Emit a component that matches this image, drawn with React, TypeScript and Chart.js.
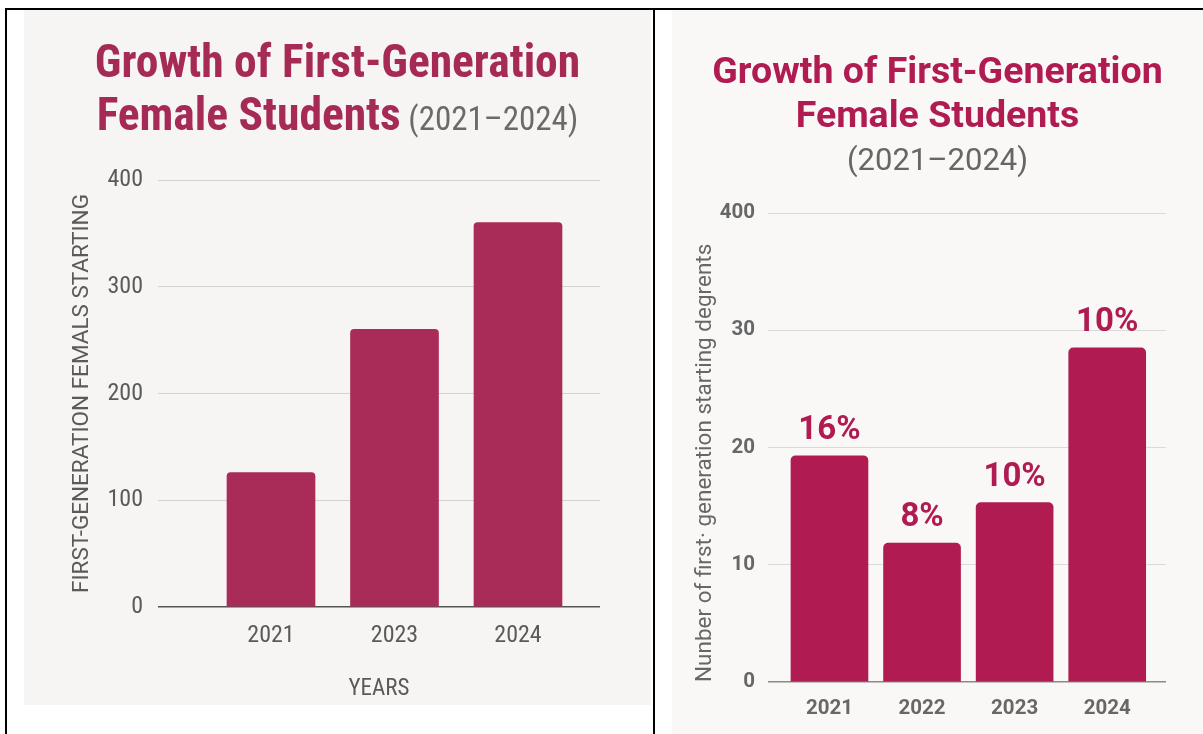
import React, { useEffect, useRef } from 'react';
import { Chart, registerables } from 'chart.js';

Chart.register(...registerables);

// ---------- data ----------
const leftYears = ['2021', '2023', '2024'];
const leftValues = [126, 260, 360];
const leftTickLabels = ['0', '100', '200', '300', '400'];

const rightYears = ['2021', '2022', '2023', '2024'];
const rightValues = [19.3, 11.85, 15.3, 28.5];
const rightPctLabels = ['16%', '8%', '10%', '10%'];
const rightTickLabels = ['0', '10', '20', '30', '400'];

const titleLine1 = 'Growth of First-Generation';
const titleLine2 = 'Female Students';
const titleRange = '(2021–2024)';
const leftYTitle = 'FIRST-GENERATION FEMALS STARTING';
const leftXTitle = 'YEARS';
const rightYTitle = 'Nunber of first· generation starting degrents';

// ---------- styles ----------
const LEFT_COLOR = '#a82b58';
const LEFT_TITLE_COLOR = '#a52a55';
const RIGHT_COLOR = '#b01b52';
const LEFT_GRAY = '#5a5a5a';
const RIGHT_GRAY = '#676767';
const COND = "'Roboto Condensed', 'Liberation Sans Narrow', 'DejaVu Sans Condensed', Roboto, sans-serif";
const ROBOTO = 'Roboto, sans-serif';

type Seg = { text: string; font: string; color: string };
type Line = { y: number; segs: Seg[] };

function titlePlugin(lines: Line[]) {
  return {
    id: 'richTitle',
    afterDraw(chart: any) {
      const ctx = chart.ctx as CanvasRenderingContext2D;
      const cx = chart.width / 2;
      ctx.save();
      ctx.textBaseline = 'alphabetic';
      ctx.textAlign = 'left';
      for (const line of lines) {
        let total = 0;
        const widths = line.segs.map((s) => {
          ctx.font = s.font;
          const w = ctx.measureText(s.text).width;
          total += w;
          return w;
        });
        let x = cx - total / 2;
        line.segs.forEach((s, i) => {
          ctx.font = s.font;
          ctx.fillStyle = s.color;
          ctx.fillText(s.text, x, line.y);
          x += widths[i];
        });
      }
      ctx.restore();
    },
  };
}

const barLabelPlugin = {
  id: 'barLabels',
  afterDatasetsDraw(chart: any) {
    const meta = chart.getDatasetMeta(0);
    const ctx = chart.ctx as CanvasRenderingContext2D;
    ctx.save();
    ctx.font = `bold 33px ${ROBOTO}`;
    ctx.fillStyle = RIGHT_COLOR;
    ctx.textAlign = 'center';
    ctx.textBaseline = 'alphabetic';
    meta.data.forEach((bar: any, i: number) => {
      ctx.fillText(rightPctLabels[i], bar.x, bar.y - 17);
    });
    ctx.restore();
  },
};

function leftConfig(): any {
  return {
    type: 'bar',
    data: {
      datasets: [
        {
          data: leftYears.map((_, i) => ({ x: i, y: leftValues[i] })),
          backgroundColor: LEFT_COLOR,
          borderRadius: 4,
          borderSkipped: 'bottom',
          barThickness: 88,
        },
      ],
    },
    options: {
      responsive: false,
      animation: false,
      layout: { padding: { top: 170, left: 0, right: 51, bottom: 0 } },
      plugins: { legend: { display: false }, tooltip: { enabled: false } },
      scales: {
        x: {
          type: 'linear',
          offset: false,
          min: -0.915,
          max: 2.664,
          afterBuildTicks: (s: any) => {
            s.ticks = leftYears.map((_, i) => ({ value: i }));
          },
          afterFit: (s: any) => {
            s.height = 98;
          },
          grid: { display: false, drawTicks: false, offset: false },
          border: { display: false },
          ticks: {
            callback: (v: number) => leftYears[v] ?? '',
            font: { family: COND, size: 24 },
            color: LEFT_GRAY,
            padding: 15,
            maxRotation: 0,
            autoSkip: false,
          },
          title: {
            display: true,
            text: leftXTitle,
            font: { family: COND, size: 23 },
            color: LEFT_GRAY,
            padding: { top: 0, bottom: 2 },
          },
        },
        y: {
          min: 0,
          max: 400,
          afterFit: (s: any) => {
            s.width = 134;
          },
          ticks: {
            stepSize: 100,
            callback: (_v: number, i: number) => leftTickLabels[i],
            font: { family: COND, size: 24 },
            color: LEFT_GRAY,
            padding: 15,
          },
          grid: {
            drawTicks: false,
            color: (c: any) => (c.tick && c.tick.value === 0 ? '#555555' : '#d2d2d2'),
            lineWidth: (c: any) => (c.tick && c.tick.value === 0 ? 1.5 : 1),
          },
          border: { display: false },
          title: {
            display: true,
            text: leftYTitle,
            font: { family: ROBOTO, size: 22.5 },
            color: LEFT_GRAY,
            padding: { top: 45, bottom: 0 },
          },
        },
      },
    },
    plugins: [
      titlePlugin([
        { y: 67, segs: [{ text: titleLine1, font: `bold 45.5px ${COND}`, color: LEFT_TITLE_COLOR }] },
        {
          y: 120,
          segs: [
            { text: titleLine2, font: `bold 45.5px ${COND}`, color: LEFT_TITLE_COLOR },
            { text: ' ' + titleRange, font: `33px ${COND}`, color: '#6a6a6a' },
          ],
        },
      ]),
    ],
  };
}

function rightConfig(): any {
  return {
    type: 'bar',
    data: {
      datasets: [
        {
          data: rightYears.map((_, i) => ({ x: i, y: rightValues[i] })),
          backgroundColor: RIGHT_COLOR,
          borderRadius: 5,
          borderSkipped: 'bottom',
          barThickness: 77,
        },
      ],
    },
    options: {
      responsive: false,
      animation: false,
      layout: { padding: { top: 203, left: 0, right: 37, bottom: 0 } },
      plugins: { legend: { display: false }, tooltip: { enabled: false } },
      scales: {
        x: {
          type: 'linear',
          offset: false,
          min: -0.664,
          max: 3.635,
          afterBuildTicks: (s: any) => {
            s.ticks = rightYears.map((_, i) => ({ value: i }));
          },
          afterFit: (s: any) => {
            s.height = 52;
          },
          grid: { display: false, drawTicks: false, offset: false },
          border: { display: false },
          ticks: {
            callback: (v: number) => rightYears[v] ?? '',
            font: { family: ROBOTO, size: 20.5, weight: 'bold' },
            color: RIGHT_GRAY,
            padding: 15,
            maxRotation: 0,
            autoSkip: false,
          },
        },
        y: {
          min: 0,
          max: 40,
          afterFit: (s: any) => {
            s.width = 96;
          },
          ticks: {
            stepSize: 10,
            callback: (_v: number, i: number) => rightTickLabels[i],
            font: { family: ROBOTO, size: 20.5, weight: 'bold' },
            color: RIGHT_GRAY,
            padding: 13,
          },
          grid: {
            drawTicks: false,
            color: (c: any) => (c.tick && c.tick.value === 0 ? '#8a8a8a' : '#dadada'),
            lineWidth: (c: any) => (c.tick && c.tick.value === 0 ? 1.5 : 1),
          },
          border: { display: false },
          title: {
            display: true,
            text: rightYTitle,
            align: 'start',
            font: { family: ROBOTO, size: 22.5 },
            color: RIGHT_GRAY,
            padding: { top: 19.5, bottom: 0 },
          },
        },
      },
    },
    plugins: [
      barLabelPlugin,
      titlePlugin([
        { y: 73, segs: [{ text: titleLine1, font: `bold 37.5px ${ROBOTO}`, color: RIGHT_COLOR }] },
        { y: 117, segs: [{ text: titleLine2, font: `bold 37.5px ${ROBOTO}`, color: RIGHT_COLOR }] },
        { y: 160, segs: [{ text: titleRange, font: `31px ${ROBOTO}`, color: '#666666' }] },
      ]),
    ],
  };
}

function ChartCanvas({ make, width, height }: { make: () => any; width: number; height: number }) {
  const ref = useRef<HTMLCanvasElement>(null);
  useEffect(() => {
    const chart = new Chart(ref.current as HTMLCanvasElement, make());
    return () => chart.destroy();
  }, []);
  return <canvas ref={ref} width={width} height={height} style={{ display: 'block', width, height }} />;
}

export default function App() {
  return (
    <div style={{ position: 'fixed', left: 0, top: 0, width: 1203, height: 734, background: '#ffffff', overflow: 'hidden' }}>
      <div style={{ position: 'absolute', left: 5, top: 8, width: 1198, height: 2, background: '#000' }} />
      <div style={{ position: 'absolute', left: 5, top: 8, width: 2, height: 726, background: '#000' }} />
      <div style={{ position: 'absolute', left: 653, top: 8, width: 2, height: 726, background: '#000' }} />
      <div style={{ position: 'absolute', left: 24, top: 10, width: 627, height: 695, background: '#f6f5f4' }}>
        <ChartCanvas make={leftConfig} width={627} height={695} />
      </div>
      <div style={{ position: 'absolute', left: 672, top: 10, width: 531, height: 724, background: '#f9f8f7' }}>
        <ChartCanvas make={rightConfig} width={531} height={724} />
      </div>
    </div>
  );
}
